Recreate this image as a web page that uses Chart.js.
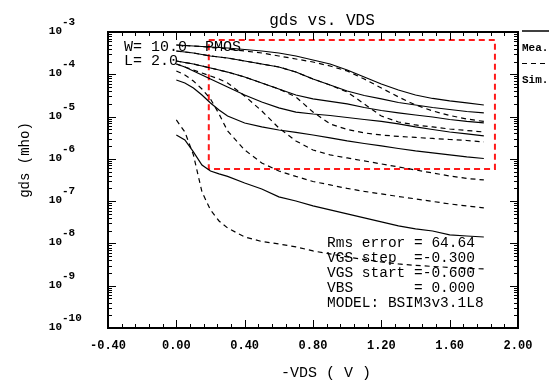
<!DOCTYPE html>
<html>
<head>
<meta charset="utf-8">
<script src="https://cdn.jsdelivr.net/npm/chart.js@4.4.1/dist/chart.umd.min.js"></script>
<style>
  html, body { margin: 0; padding: 0; background: #fff; }
</style>
</head>
<body>
<canvas id="chart" width="549" height="380"></canvas>
<script>
// -VDS sweep points (V)
const vds = [0, 0.05, 0.1, 0.15, 0.2, 0.25, 0.3, 0.4, 0.5, 0.6, 0.7, 0.8, 0.9, 1.0, 1.1, 1.2, 1.3, 1.4, 1.5, 1.6, 1.7, 1.8];

// measured gds (mho), one curve per VGS
const meas1 = [4.93e-4, 4.80e-4, 4.67e-4, 4.54e-4, 4.42e-4, 4.30e-4, 4.18e-4, 3.86e-4, 3.55e-4, 3.19e-4, 2.71e-4, 2.18e-4, 1.75e-4, 1.26e-4, 8.63e-5, 5.90e-5, 4.25e-5, 3.24e-5, 2.68e-5, 2.34e-5, 2.10e-5, 1.88e-5];
const meas2 = [3.55e-4, 3.37e-4, 3.19e-4, 2.94e-4, 2.71e-4, 2.56e-4, 2.43e-4, 2.06e-4, 1.75e-4, 1.49e-4, 1.13e-4, 7.74e-5, 5.58e-5, 4.03e-5, 3.15e-5, 2.61e-5, 2.15e-5, 1.88e-5, 1.64e-5, 1.47e-5, 1.32e-5, 1.22e-5];
const meas3 = [2.06e-4, 1.90e-4, 1.75e-4, 1.57e-4, 1.41e-4, 1.26e-4, 1.13e-4, 8.63e-5, 6.23e-5, 4.49e-5, 3.24e-5, 2.61e-5, 2.28e-5, 1.99e-5, 1.64e-5, 1.39e-5, 1.22e-5, 1.09e-5, 9.78e-6, 8.53e-6, 7.66e-6, 7.06e-6];
const meas4 = [1.75e-4, 1.49e-4, 1.20e-4, 9.63e-5, 7.74e-5, 6.23e-5, 5.01e-5, 3.24e-5, 2.21e-5, 1.60e-5, 1.28e-5, 1.15e-5, 1.06e-5, 9.52e-6, 8.53e-6, 7.66e-6, 6.69e-6, 5.68e-6, 4.95e-6, 4.32e-6, 3.88e-6, 3.48e-6];
const meas5 = [7.33e-5, 6.23e-5, 4.74e-5, 3.24e-5, 2.10e-5, 1.43e-5, 1.03e-5, 7.06e-6, 5.68e-6, 4.82e-6, 4.21e-6, 3.67e-6, 3.12e-6, 2.65e-6, 2.31e-6, 2.02e-6, 1.76e-6, 1.54e-6, 1.38e-6, 1.24e-6, 1.11e-6, 1.02e-6];
const meas6 = [3.67e-6, 2.80e-6, 1.46e-6, 7.17e-7, 5.17e-7, 4.40e-7, 3.84e-7, 2.69e-7, 1.94e-7, 1.26e-7, 1.01e-7, 7.70e-8, 6.19e-8, 4.98e-8, 4.01e-8, 3.22e-8, 2.59e-8, 2.20e-8, 1.97e-8, 1.59e-8, 1.50e-8, 1.42e-8];

// simulated gds (mho)
const sim1 = [4.93e-4, 4.80e-4, 4.67e-4, 4.54e-4, 4.30e-4, 4.18e-4, 3.96e-4, 3.55e-4, 3.19e-4, 2.71e-4, 2.30e-4, 1.95e-4, 1.57e-4, 1.20e-4, 7.74e-5, 4.74e-5, 2.91e-5, 1.88e-5, 1.36e-5, 1.06e-5, 8.77e-6, 7.66e-6];
const sim2 = [3.55e-4, 3.37e-4, 3.19e-4, 2.94e-4, 2.71e-4, 2.56e-4, 2.43e-4, 2.06e-4, 1.75e-4, 1.49e-4, 1.13e-4, 7.74e-5, 5.58e-5, 3.82e-5, 1.99e-5, 1.03e-5, 7.45e-6, 6.33e-6, 5.68e-6, 5.09e-6, 4.69e-6, 4.32e-6];
const sim3 = [2.06e-4, 1.90e-4, 1.75e-4, 1.57e-4, 1.41e-4, 1.26e-4, 1.13e-4, 8.63e-5, 6.23e-5, 4.49e-5, 2.91e-5, 1.28e-5, 6.69e-6, 4.95e-6, 4.10e-6, 3.67e-6, 3.39e-6, 3.21e-6, 3.04e-6, 2.87e-6, 2.72e-6, 2.51e-6];
const sim4 = [1.75e-4, 1.49e-4, 1.26e-4, 1.07e-4, 9.12e-5, 7.74e-5, 6.23e-5, 3.07e-5, 1.36e-5, 5.38e-6, 2.65e-6, 1.62e-6, 1.24e-6, 1.05e-6, 8.92e-7, 7.58e-7, 6.43e-7, 5.47e-7, 4.64e-7, 3.94e-7, 3.44e-7, 3.17e-7];
const sim5 = [1.20e-4, 9.63e-5, 6.94e-5, 4.49e-5, 2.61e-5, 1.15e-5, 4.57e-6, 1.62e-6, 8.00e-7, 5.17e-7, 3.84e-7, 2.92e-7, 2.42e-7, 2.00e-7, 1.70e-7, 1.48e-7, 1.29e-7, 1.13e-7, 9.84e-8, 8.59e-8, 7.70e-8, 6.91e-8];
const sim6 = [8.31e-6, 4.32e-6, 1.24e-6, 1.65e-7, 6.19e-8, 3.40e-8, 2.32e-8, 1.42e-8, 1.11e-8, 9.73e-9, 8.27e-9, 6.65e-9, 5.65e-9, 4.80e-9, 4.18e-9, 3.65e-9, 3.28e-9, 3.02e-9, 2.86e-9, 2.71e-9, 2.56e-9, 2.50e-9];

// red optimisation window
const windowX = [0.19, 1.865, 1.865, 0.19, 0.19];
const windowY = [6.47e-4, 6.47e-4, 5.77e-7, 5.77e-7, 6.47e-4];

// axis ticks
const xMajorTicks = [-0.4, 0, 0.4, 0.8, 1.2, 1.6, 2.0];
const yDecades = [-10, -9, -8, -7, -6, -5, -4, -3];

const infoLines = ['Rms error = 64.64', 'VGS step  =-0.300', 'VGS start =-0.600', 'VBS       = 0.000', 'MODEL: BSIM3v3.1L8'];

const MONO = '"Liberation Mono", "DejaVu Sans Mono", monospace';

function pts(xs, ys) {
  return xs.map((v, i) => ({ x: v, y: ys[i] }));
}

function curve(ys, dashed) {
  return {
    data: pts(vds, ys),
    showLine: true,
    borderColor: '#000',
    borderWidth: 1.2,
    borderDash: dashed ? [5, 4] : [],
    pointRadius: 0,
    tension: 0,
    fill: false,
  };
}

const decorations = {
  id: 'decorations',
  afterDraw(chart) {
    const { ctx, chartArea: a, scales } = chart;
    const sx = scales.x, sy = scales.y;
    ctx.save();

    // frame
    ctx.strokeStyle = '#000';
    ctx.lineWidth = 2;
    ctx.strokeRect(a.left, a.top, a.right - a.left, a.bottom - a.top);

    // x ticks, bottom and top, pointing inward
    ctx.lineWidth = 1;
    ctx.beginPath();
    for (let i = 0; i < xMajorTicks.length; i++) {
      const px = Math.round(sx.getPixelForValue(xMajorTicks[i])) + 0.5;
      ctx.moveTo(px, a.bottom); ctx.lineTo(px, a.bottom - 8);
      ctx.moveTo(px, a.top); ctx.lineTo(px, a.top + 8);
      if (i < xMajorTicks.length - 1) {
        const step = (xMajorTicks[i + 1] - xMajorTicks[i]) / 5;
        for (let k = 1; k < 5; k++) {
          const mx = Math.round(sx.getPixelForValue(xMajorTicks[i] + k * step)) + 0.5;
          ctx.moveTo(mx, a.bottom); ctx.lineTo(mx, a.bottom - 4);
          ctx.moveTo(mx, a.top); ctx.lineTo(mx, a.top + 4);
        }
      }
    }
    // y ticks, left and right
    yDecades.forEach((n, i) => {
      const py = Math.round(sy.getPixelForValue(Math.pow(10, n))) + 0.5;
      ctx.moveTo(a.left, py); ctx.lineTo(a.left + 8, py);
      ctx.moveTo(a.right, py); ctx.lineTo(a.right - 8, py);
      if (i < yDecades.length - 1) {
        for (let k = 2; k <= 9; k++) {
          const my = Math.round(sy.getPixelForValue(k * Math.pow(10, n))) + 0.5;
          ctx.moveTo(a.left, my); ctx.lineTo(a.left + 4, my);
          ctx.moveTo(a.right, my); ctx.lineTo(a.right - 4, my);
        }
      }
    });
    ctx.stroke();

    // y tick labels 10^n
    ctx.fillStyle = '#000';
    ctx.font = 'bold 11px ' + MONO;
    ctx.textBaseline = 'alphabetic';
    yDecades.forEach(n => {
      const py = sy.getPixelForValue(Math.pow(10, n));
      ctx.textAlign = 'right';
      ctx.fillText('10', 62, py + 2);
      ctx.textAlign = 'left';
      ctx.fillText(String(n), 62, py - 7);
    });

    // title
    ctx.font = '16px ' + MONO;
    ctx.textAlign = 'center';
    ctx.fillText('gds vs. VDS', 322, 25);

    // x axis title
    ctx.font = '15px ' + MONO;
    ctx.fillText('-VDS ( V )', 326, 377);

    // y axis title
    ctx.save();
    ctx.translate(29, 160);
    ctx.rotate(-Math.PI / 2);
    ctx.font = '14px ' + MONO;
    ctx.textAlign = 'center';
    ctx.fillText('gds (mho)', 0, 0);
    ctx.restore();

    // device text
    ctx.textAlign = 'left';
    ctx.font = '15px ' + MONO;
    ctx.fillText('W= 10.0  PMOS', 124, 51);
    ctx.fillText('L= 2.0', 124, 65);

    // fit info
    ctx.font = '14.5px ' + MONO;
    infoLines.forEach((t, i) => ctx.fillText(t, 327, 247 + i * 15));

    // legend, cut at the right edge
    ctx.lineWidth = 1.5;
    ctx.beginPath();
    ctx.moveTo(522, 31); ctx.lineTo(549, 31);
    ctx.stroke();
    ctx.setLineDash([5, 4]);
    ctx.lineWidth = 1.2;
    ctx.beginPath();
    ctx.moveTo(522, 63.5); ctx.lineTo(549, 63.5);
    ctx.stroke();
    ctx.setLineDash([]);
    ctx.font = 'bold 11px ' + MONO;
    ctx.fillText('Mea.', 522, 51);
    ctx.fillText('Sim.', 522, 83);

    ctx.restore();
  }
};

new Chart(document.getElementById('chart'), {
  type: 'scatter',
  data: {
    datasets: [
      curve(meas1, false), curve(meas2, false), curve(meas3, false),
      curve(meas4, false), curve(meas5, false), curve(meas6, false),
      curve(sim1, true), curve(sim2, true), curve(sim3, true),
      curve(sim4, true), curve(sim5, true), curve(sim6, true),
      {
        data: pts(windowX, windowY),
        showLine: true,
        borderColor: '#ff1a1a',
        borderWidth: 2,
        borderDash: [6, 4],
        pointRadius: 0,
        tension: 0,
        fill: false,
      },
    ],
  },
  options: {
    responsive: false,
    animation: false,
    devicePixelRatio: 1,
    layout: { padding: { top: 32, right: 31, left: 0, bottom: 0 } },
    plugins: { legend: { display: false }, tooltip: { enabled: false }, title: { display: false } },
    scales: {
      x: {
        type: 'linear',
        min: -0.4,
        max: 2.0,
        grid: { display: false, drawTicks: false },
        border: { display: false },
        ticks: {
          stepSize: 0.4,
          autoSkip: false,
          maxRotation: 0,
          padding: 11,
          color: '#000',
          font: { family: MONO, size: 12, weight: 'bold' },
          callback: v => (Math.abs(v) < 1e-9 ? '0.00' : Number(v).toFixed(2)),
        },
        afterFit: s => { s.height = 52; },
      },
      y: {
        type: 'logarithmic',
        min: 1e-10,
        max: 1e-3,
        grid: { display: false, drawTicks: false },
        border: { display: false },
        ticks: { display: false },
        afterFit: s => { s.width = 108; },
      },
    },
  },
  plugins: [decorations],
});
</script>
</body>
</html>
